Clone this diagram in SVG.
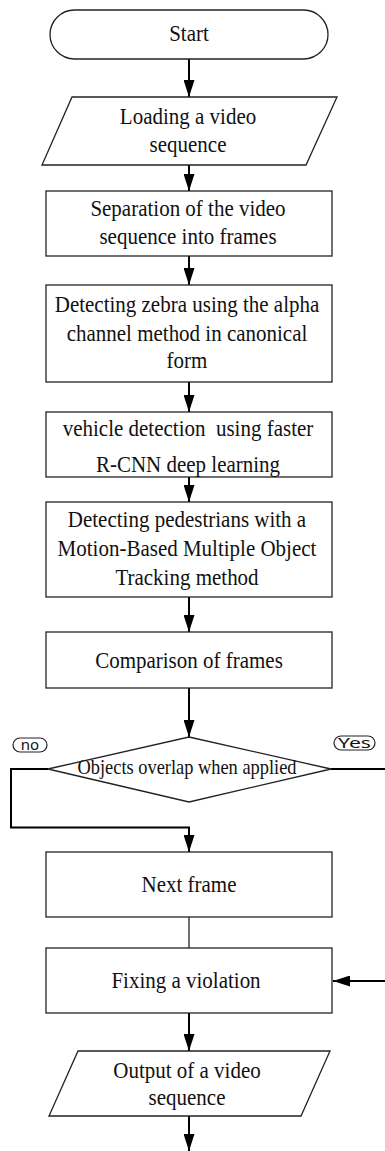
<svg xmlns="http://www.w3.org/2000/svg" width="385" height="1151" viewBox="0 0 385 1151">
<style>
.shape{fill:#fff;stroke:#222;stroke-width:1.3}
.t{font-family:"Liberation Serif","Times New Roman",serif;font-size:21px;fill:#111;text-anchor:middle}
.td{font-family:"Liberation Serif","Times New Roman",serif;font-size:18.4px;fill:#111;text-anchor:middle}
.conn{fill:none;stroke:#000;stroke-width:2}
.thin{fill:none;stroke:#222;stroke-width:1.3}
.pill{fill:#fff;stroke:#222;stroke-width:1.2}
.lab{font-family:"Noto Sans","DejaVu Sans",sans-serif;font-size:15px;fill:#111;text-anchor:middle}
</style>
<defs>
<marker id="arr" markerUnits="userSpaceOnUse" markerWidth="17" markerHeight="11" viewBox="0 0 17 11" refX="17" refY="5.5" orient="auto">
<path d="M0,0 L17,5.5 L0,11 z" fill="#000"/>
</marker>
</defs>
<rect width="385" height="1151" fill="#fff"/>
<g id="connectors">
<path class="conn" d="M189,59 V97" marker-end="url(#arr)"/>
<path class="conn" d="M189,165 V191" marker-end="url(#arr)"/>
<path class="conn" d="M189,256 V285" marker-end="url(#arr)"/>
<path class="conn" d="M189,382 V412" marker-end="url(#arr)"/>
<path class="conn" d="M189,477 V502" marker-end="url(#arr)"/>
<path class="conn" d="M189,597 V632" marker-end="url(#arr)"/>
<path class="conn" d="M189,688 V737" marker-end="url(#arr)"/>
<path class="conn" d="M48,769 H11 V827.5 H189 V852" marker-end="url(#arr)"/>
<path class="conn" d="M331,769 H388 V981 H333" marker-end="url(#arr)"/>
<path class="thin" d="M189,917 V948"/>
<path class="conn" d="M189,1013 V1051" marker-end="url(#arr)"/>
<path class="conn" d="M189,1116 V1151" marker-end="url(#arr)"/>
</g>
<g id="start">
<rect class="shape" x="50" y="10" width="278" height="49" rx="24.5"/>
<text class="t" transform="translate(189,41) scale(1,1.12)">Start</text>
</g>
<g id="load">
<polygon class="shape" points="72,97 337,97 306,165 42,165"/>
<text class="t" transform="translate(188,124) scale(1,1.12)"><tspan x="0" y="0">Loading a video</tspan><tspan x="0" y="24.6">sequence</tspan></text>
</g>
<g id="separate">
<rect class="shape" x="46" y="191" width="286" height="65"/>
<text class="t" transform="translate(188,216) scale(1,1.12)"><tspan x="0" y="0">Separation of the video</tspan><tspan x="0" y="25">sequence into frames</tspan></text>
</g>
<g id="zebra">
<rect class="shape" x="46" y="285" width="286" height="97"/>
<text class="t" transform="translate(187,311.7) scale(1,1.12)"><tspan x="0" y="0">Detecting zebra using the alpha</tspan><tspan x="0" y="26.2">channel method in canonical</tspan><tspan x="0" y="50.3">form</tspan></text>
</g>
<g id="vehicle">
<rect class="shape" x="46" y="412" width="286" height="65"/>
<text class="t" transform="translate(188,435.7) scale(1,1.12)"><tspan x="0" y="0" xml:space="preserve">vehicle detection  using faster</tspan><tspan x="0" y="32.1">R-CNN deep learning</tspan></text>
</g>
<g id="pedestrians">
<rect class="shape" x="46" y="502" width="286" height="95"/>
<text class="t" transform="translate(187,527) scale(1,1.12)"><tspan x="0" y="0">Detecting pedestrians with a</tspan><tspan x="0" y="25.6">Motion-Based Multiple Object</tspan><tspan x="0" y="51.8">Tracking method</tspan></text>
</g>
<g id="compare">
<rect class="shape" x="46" y="632" width="286" height="56"/>
<text class="t" transform="translate(189,668) scale(1,1.12)">Comparison of frames</text>
</g>
<g id="decision">
<polygon class="shape" points="189,737 331,769 189,802 48,769"/>
<text class="td" transform="translate(187,774.3) scale(1,1.12)">Objects overlap when applied</text>
</g>
<g id="label-no">
<rect class="pill" x="13" y="738" width="34" height="14" rx="7"/>
<text class="lab" x="30" y="750">no</text>
</g>
<g id="label-yes">
<rect class="pill" x="334" y="736" width="41" height="14" rx="7"/>
<text class="lab" x="354.5" y="748" textLength="33" lengthAdjust="spacingAndGlyphs">Yes</text>
</g>
<g id="next">
<rect class="shape" x="46" y="852" width="286" height="65"/>
<text class="t" transform="translate(189,891.7) scale(1,1.12)">Next frame</text>
</g>
<g id="fix">
<rect class="shape" x="46" y="948" width="286" height="65"/>
<text class="t" transform="translate(186,988.3) scale(1,1.12)">Fixing a violation</text>
</g>
<g id="output">
<polygon class="shape" points="78,1051 330,1051 301,1116 49,1116"/>
<text class="t" transform="translate(187,1078) scale(1,1.12)"><tspan x="0" y="0">Output of a video</tspan><tspan x="0" y="24">sequence</tspan></text>
</g>
</svg>
